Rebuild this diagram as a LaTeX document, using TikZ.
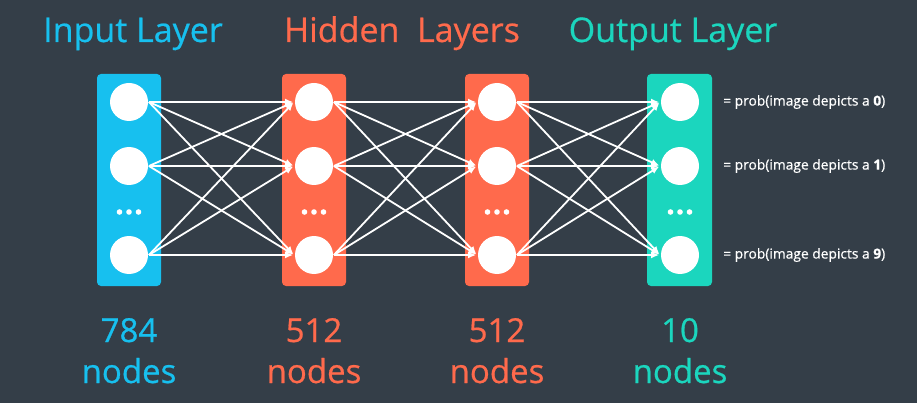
\documentclass[tikz,border=0pt]{standalone}
\usepackage{fontspec}
\setmainfont{Open Sans}
\newfontfamily\heavyfont{Open Sans}[FakeBold=0.6]
\usetikzlibrary{arrows.meta}
\definecolor{bg}{HTML}{343E48}
\definecolor{inblue}{HTML}{17C0EF}
\definecolor{hidred}{HTML}{FF6A4C}
\definecolor{outteal}{HTML}{1BD6BE}
\tikzset{
  layer/.style={rounded corners=4pt},
  unit/.style={circle,fill=white,minimum size=38pt,inner sep=0pt},
  conn/.style={white,-{Latex[length=8pt,width=7pt]},shorten >=1pt},
  title/.style={anchor=base,font=\heavyfont\fontsize{34}{34}\selectfont},
  count/.style={anchor=base,font=\heavyfont\fontsize{33}{33}\selectfont},
  prob/.style={anchor=west,white,font=\heavyfont\fontsize{13.8}{14}\selectfont},
}
\begin{document}
\begin{tikzpicture}[x=1pt,y=-1pt,line width=1.8pt]
	\fill[bg] (0,0) rectangle (917,403);
	\fill[inblue,layer] (97,74) rectangle (161,286);
	\fill[hidred,layer] (282,74) rectangle (346,286);
	\fill[hidred,layer] (465,74) rectangle (529,286);
	\fill[outteal,layer] (647,74) rectangle (712,286);

	\node[unit] (i0) at (129,102) {};
	\node[unit] (i1) at (129,166) {};
	\node[unit] (i9) at (129,255) {};
	\node[unit] (ha0) at (314,102) {};
	\node[unit] (ha1) at (314,166) {};
	\node[unit] (ha9) at (314,255) {};
	\node[unit] (hb0) at (497,102) {};
	\node[unit] (hb1) at (497,166) {};
	\node[unit] (hb9) at (497,255) {};
	\node[unit] (o0) at (680,102) {};
	\node[unit] (o1) at (680,166) {};
	\node[unit] (o9) at (680,255) {};

	\foreach \x in {129,314,497,680}
		\foreach \d in {-9.5,0,9.5}
			\fill[white] (\x+\d,212) circle (2.8);

	\foreach \a/\b in {i/ha,ha/hb,hb/o}
		\foreach \s in {0,1,9}
			\foreach \t in {0,1,9}
				\draw[conn] (\a\s.east) -- (\b\t.west);

	\node[title,inblue] (input) at (133,42) {Input Layer};
	\node[title,hidred] (hidden) at (402,42) {Hidden\ \ Layers};
	\node[title,outteal] (output) at (673,42) {Output Layer};

	\node[count,inblue] (784) at (129,342) {784};
	\node[count,inblue] (784n) at (129,383) {nodes};
	\node[count,hidred] (512a) at (314,342) {512};
	\node[count,hidred] (512an) at (314,383) {nodes};
	\node[count,hidred] (512b) at (497,342) {512};
	\node[count,hidred] (512bn) at (497,383) {nodes};
	\node[count,outteal] (10) at (680,342) {10};
	\node[count,outteal] (10n) at (680,383) {nodes};

	\node[prob] (p0) at (719,102) {= prob(image depicts a \textbf{0})};
	\node[prob] (p1) at (719,166) {= prob(image depicts a \textbf{1})};
	\node[prob] (p9) at (719,255) {= prob(image depicts a \textbf{9})};
\end{tikzpicture}
\end{document}
